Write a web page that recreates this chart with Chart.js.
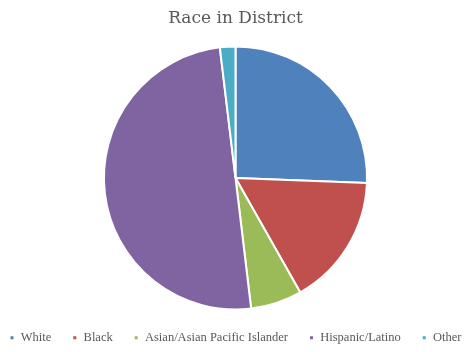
<!DOCTYPE html>
<html>
<head>
<meta charset="utf-8">
<script src="https://cdn.jsdelivr.net/npm/chart.js@4"></script>
<style>
  html, body { margin: 0; padding: 0; background: #ffffff; }
  #wrap { width: 471px; height: 352px; }
</style>
</head>
<body>
<div id="wrap"><canvas id="raceChart" width="471" height="352"></canvas></div>
<script>
// Share of each group in the district (percent)
const groups = ["White", "Black", "Asian/Asian Pacific Islander", "Hispanic/Latino", "Other"];
const shares = [25.6, 16.2, 6.3, 50.0, 1.9];
const sliceColors = ["#4F81BD", "#C0504D", "#9BBB59", "#8064A2", "#4BACC6"];

document.addEventListener("DOMContentLoaded", function() {
    const ctx = document.getElementById("raceChart").getContext("2d");

    new Chart(ctx, {
        type: "pie",
        data: {
            labels: groups,
            datasets: [{
                data: shares,
                backgroundColor: sliceColors,
                borderColor: "#ffffff",
                borderWidth: 2
            }]
        },
        options: {
            responsive: false,
            animation: false,
            // negative side padding gives the one-line legend a bit more room
            layout: { padding: { top: 0, bottom: -2, left: -15, right: -15 } },
            plugins: {
                title: {
                    display: true,
                    text: "Race in District",
                    color: "#595959",
                    font: { family: "'DejaVu Serif', serif", size: 17, weight: "normal" },
                    padding: { top: 8, bottom: 17 }
                },
                legend: {
                    position: "bottom",
                    labels: {
                        color: "#595959",
                        font: { family: "'Liberation Serif', serif", size: 12.5 },
                        boxWidth: 5,
                        boxHeight: 5,
                        padding: 21
                    }
                },
                tooltip: { enabled: false }
            }
        }
    });
});
</script>
</body>
</html>
